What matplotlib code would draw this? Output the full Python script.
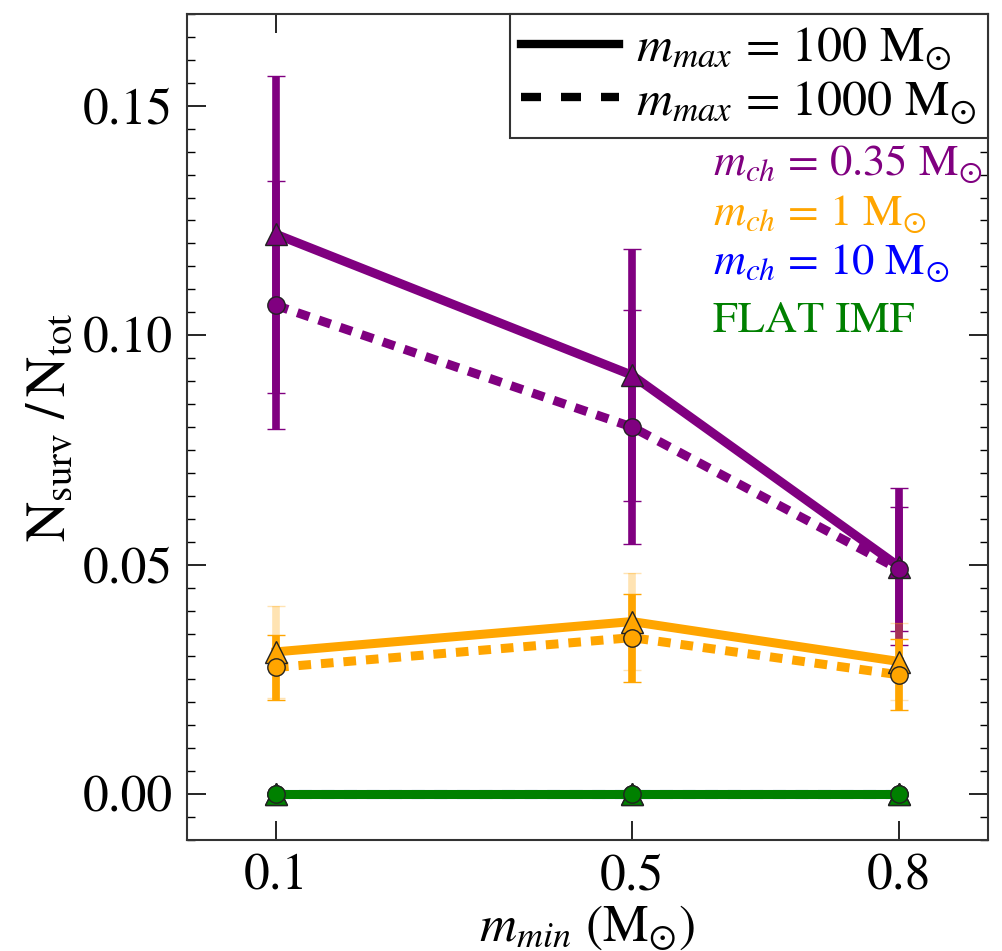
import numpy as np
import matplotlib
matplotlib.use("Agg")
import matplotlib.pyplot as plt
from matplotlib.lines import Line2D
from matplotlib.ticker import MultipleLocator

plt.rcParams['font.family'] = 'STIXGeneral'
plt.rcParams['mathtext.fontset'] = 'stix'

# minimum stellar mass of the IMF
m_min = [0.1, 0.5, 0.8]

# m_ch = 0.35 Msun
frac_035_m100 = [0.122, 0.0913, 0.0496]
err_035_m100 = [0.0345, 0.0275, 0.0170]
frac_035_m1000 = [0.1065, 0.080, 0.049]
err_035_m1000 = [0.027, 0.0255, 0.0135]

# m_ch = 1 Msun
frac_1_m100 = [0.031, 0.0376, 0.0289]
err_1_m100 = [0.010, 0.0105, 0.0083]
frac_1_m1000 = [0.0276, 0.0341, 0.026]
err_1_m1000 = [0.0070, 0.0096, 0.0077]

# m_ch = 10 Msun and flat IMF: no survivors
frac_10_m100 = [0.0, 0.0, 0.0]
frac_10_m1000 = [0.0, 0.0, 0.0]
frac_flat_m100 = [0.0, 0.0, 0.0]
frac_flat_m1000 = [0.0, 0.0, 0.0]
err_zero = [0.0, 0.0, 0.0]

LW = 6.5
DOTS = (1.4, 1.1)


def plot_pair(ax, y_solid, e_solid, y_dot, e_dot, color, solid_alpha=1.0):
    ax.errorbar(m_min, y_solid, yerr=e_solid, fmt='none', ecolor=color,
                elinewidth=5.5, capsize=6.5, capthick=1, alpha=solid_alpha)
    ax.errorbar(m_min, y_dot, yerr=e_dot, fmt='none', ecolor=color,
                elinewidth=5.5, capsize=6.5, capthick=1)
    ax.plot(m_min, y_solid, '-', color=color, lw=LW)
    ax.plot(m_min, y_dot, color=color, lw=LW, dashes=DOTS)
    ax.plot(m_min, y_solid, '^', color=color, ms=16, mec='#222222', mew=1, ls='none')
    ax.plot(m_min, y_dot, 'o', color=color, ms=12.5, mec='#222222', mew=1, ls='none')


fig = plt.figure(figsize=(10.03, 9.51), dpi=100)
ax = fig.add_axes([0.1864, 0.1167, 0.7986, 0.8686])

plot_pair(ax, frac_035_m100, err_035_m100, frac_035_m1000, err_035_m1000, 'purple')
plot_pair(ax, frac_1_m100, err_1_m100, frac_1_m1000, err_1_m1000, 'orange', solid_alpha=0.3)
plot_pair(ax, frac_10_m100, err_zero, frac_10_m1000, err_zero, 'blue')
plot_pair(ax, frac_flat_m100, err_zero, frac_flat_m1000, err_zero, 'green')

ax.set_xlim(0.0, 0.9)
ax.set_ylim(-0.01, 0.17)
ax.set_xticks(m_min)
ax.set_xticklabels(['0.1', '0.5', '0.8'])
ax.set_yticks([0.0, 0.05, 0.10, 0.15])
ax.set_yticklabels(['0.00', '0.05', '0.10', '0.15'])
ax.yaxis.set_minor_locator(MultipleLocator(0.005))
ax.tick_params(which='both', direction='in', top=True, right=True, labelsize=37)
ax.tick_params(which='major', length=14, width=1.2, pad=10)
ax.tick_params(which='minor', length=6, width=1.0)
ax.tick_params(axis='x', which='minor', bottom=False, top=False)
for sp in ax.spines.values():
    sp.set_linewidth(1.5)
    sp.set_color('#333333')

ax.set_xlabel(r'$m_{min}$ (M$_{\odot}$)', fontsize=37, labelpad=2)
ax.set_ylabel(r'$\rm N_{surv}\ /\, N_{tot}$', fontsize=40, labelpad=4)

handles = [Line2D([], [], color='k', lw=6),
           Line2D([], [], color='k', lw=6, dashes=(2.4, 2.4))]
labels = [r'$m_{max}$ = 100 M$_{\odot}$', r'$m_{max}$ = 1000 M$_{\odot}$']
leg = ax.legend(handles, labels, loc='upper right', fontsize=36, borderaxespad=0,
                fancybox=False, framealpha=1, edgecolor='#333333',
                handlelength=1.95, handletextpad=0.35, labelspacing=0.12,
                borderpad=0.22)
leg.get_frame().set_linewidth(1.5)

# model labels, coloured like their curves
model_names = [r'$m_{ch}$ = 0.35 M$_{\odot}$', r'$m_{ch}$ = 1 M$_{\odot}$',
               r'$m_{ch}$ = 10 M$_{\odot}$', 'FLAT IMF']
model_colors = ['purple', 'orange', 'blue', 'green']
model_baselines = [175, 225, 274, 332]
for name, c, yb in zip(model_names, model_colors, model_baselines):
    fig.text(713 / 1003, 1 - yb / 951, name, color=c, fontsize=32,
             ha='left', va='baseline')

fig.savefig('out.png', dpi=100)
